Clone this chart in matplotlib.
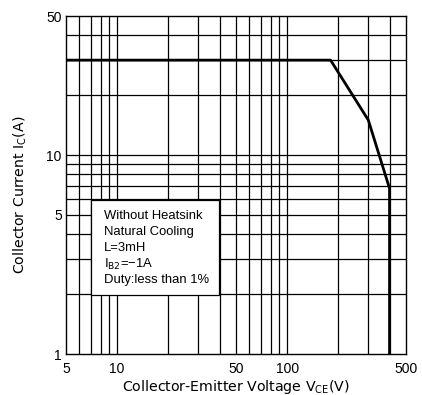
import matplotlib
matplotlib.use('Agg')
import matplotlib.pyplot as plt
from matplotlib.patches import Rectangle
from matplotlib.ticker import FixedLocator, NullFormatter

plt.rcParams['font.family'] = ['Liberation Sans', 'DejaVu Sans']

# safe operating area curve
vce = [5, 180, 300, 400, 400]
ic = [30, 30, 15, 6.8, 1]

x_ticks = [5, 10, 50, 100, 500]
y_ticks = [1, 5, 10, 50]
x_grid = [6, 7, 8, 9, 10, 20, 30, 40, 50, 60, 70, 80, 90, 100, 200, 300, 400]
y_grid = [2, 3, 4, 5, 6, 7, 8, 9, 10, 20, 30, 40]

notes = ['Without Heatsink', 'Natural Cooling', 'L=3mH',
         'I$_{\\mathrm{B2}}$=\u22121A', 'Duty:less than 1%']

fig = plt.figure(figsize=(4.22, 3.95), dpi=100)
ax = fig.add_axes([66 / 422, 41 / 395, 340 / 422, 338 / 395])
ax.set_xscale('log')
ax.set_yscale('log')
ax.set_xlim(5, 500)
ax.set_ylim(1, 50)

for x in x_grid:
    ax.axvline(x, color='black', lw=0.9, zorder=1)
for y in y_grid:
    ax.axhline(y, color='black', lw=0.9, zorder=1)

ax.plot(vce, ic, color='black', lw=2, zorder=3)

ax.xaxis.set_major_locator(FixedLocator(x_ticks))
ax.yaxis.set_major_locator(FixedLocator(y_ticks))
ax.xaxis.set_minor_locator(FixedLocator([]))
ax.yaxis.set_minor_locator(FixedLocator([]))
ax.xaxis.set_minor_formatter(NullFormatter())
ax.yaxis.set_minor_formatter(NullFormatter())
ax.set_xticklabels([str(t) for t in x_ticks])
ax.set_yticklabels([str(t) for t in y_ticks])
ax.tick_params(length=0, labelsize=10, pad=6)
ax.tick_params(axis='y', pad=3)
for s in ax.spines.values():
    s.set_linewidth(1.0)

# axis titles (wide letter spacing in the original)
fig.text(236 / 422, 8 / 395, 'Collector-Emitter Voltage V$_{\\mathrm{CE}}$(V)',
         family='DejaVu Sans', fontsize=10.2, ha='center', va='center')
fig.text(20 / 422, 1 - 195 / 395, 'Collector Current I$_{\\mathrm{C}}$(A)',
         family='DejaVu Sans', fontsize=10.2, ha='center', va='center', rotation=90)

# note box
ax.add_patch(Rectangle((0.0735, 0.175), 0.377, 0.281, transform=ax.transAxes,
                       fc='white', ec='black', lw=0.9, zorder=5))
for i, line in enumerate(notes):
    ax.text(0.112, 0.408 - i * 0.0473, line, transform=ax.transAxes,
            fontsize=9.4, va='center', ha='left', zorder=6)

fig.savefig('out.png', dpi=100)
